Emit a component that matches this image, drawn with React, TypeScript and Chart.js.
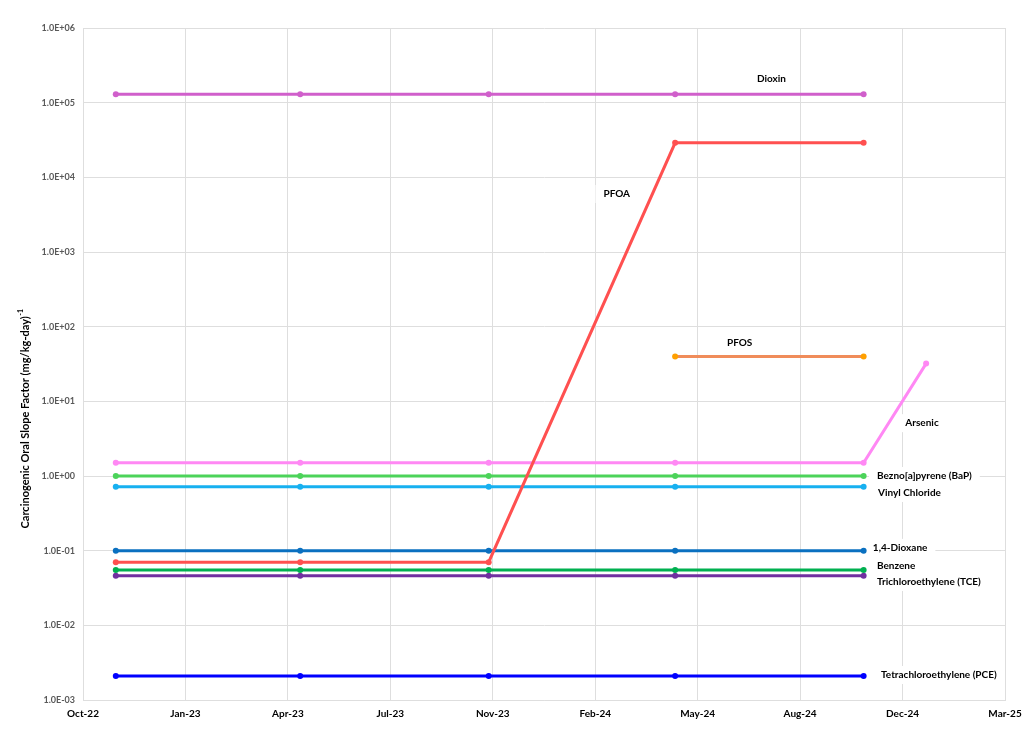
import React, { useEffect, useRef } from "react";
import { Chart, registerables } from "chart.js";

Chart.register(...registerables);

// ---- data ----
const axisOrigin = "2022-10-01";
const xTickLabels = ["Oct-22", "Jan-23", "Apr-23", "Jul-23", "Nov-23", "Feb-24", "May-24", "Aug-24", "Dec-24", "Mar-25"];
const yTickValues = [1e-3, 1e-2, 1e-1, 1e0, 1e1, 1e2, 1e3, 1e4, 1e5, 1e6];

const dates = ["2022-11-02", "2023-05-01", "2023-11-01", "2024-05-01", "2024-11-01"];
const arsenicDates = ["2022-11-02", "2023-05-01", "2023-11-01", "2024-05-01", "2024-11-01", "2025-01-01"];

const dioxin = [1.3e5, 1.3e5, 1.3e5, 1.3e5, 1.3e5];
const pfoa = [0.07, 0.07, 0.07, 2.9e4, 2.9e4];
const pfos = [null, null, null, 40, 40];
const arsenic = [1.5, 1.5, 1.5, 1.5, 1.5, 32];
const bap = [1.0, 1.0, 1.0, 1.0, 1.0];
const vinylChloride = [0.72, 0.72, 0.72, 0.72, 0.72];
const dioxane = [0.1, 0.1, 0.1, 0.1, 0.1];
const benzene = [0.055, 0.055, 0.055, 0.055, 0.055];
const tce = [0.046, 0.046, 0.046, 0.046, 0.046];
const pce = [0.0021, 0.0021, 0.0021, 0.0021, 0.0021];

// annotation labels: text, anchor date, anchor value, alignment
const labelTexts = ["Dioxin", "PFOA", "PFOS", "Arsenic", "Bezno[a]pyrene (BaP)", "Vinyl Chloride", "1,4-Dioxane", "Benzene", "Trichloroethylene (TCE)", "Tetrachloroethylene (PCE)"];
const labelDates = ["2024-08-03", "2024-03-05", "2024-07-03", "2024-12-28", "2024-11-14", "2024-11-15", "2024-11-10", "2024-11-14", "2024-11-14", "2024-11-18"];
const labelValues = [2.07e5, 5980, 60, 5.1, 1.0, 0.593, 0.109, 0.0624, 0.0381, 0.00216];
const labelAligns = ["center", "center", "center", "center", "left", "left", "left", "left", "left", "left"];

const yTitle = "Carcinogenic Oral Slope Factor (mg/kg-day)";
const yTitleSup = "-1";

// ---- helpers ----
const DAY = 86400000;
const toDay = (s: string) => {
  const [y, m, d] = s.split("-").map(Number);
  const [oy, om, od] = axisOrigin.split("-").map(Number);
  return Math.round((Date.UTC(y, m - 1, d) - Date.UTC(oy, om - 1, od)) / DAY);
};
const pts = (ds: string[], vs: (number | null)[]) => ds.map((d, i) => ({ x: toDay(d), y: vs[i] }));
const fmtExp = (v: number) => {
  const e = Math.round(Math.log10(v));
  const sign = e < 0 ? "-" : "+";
  return "1.0E" + sign + String(Math.abs(e)).padStart(2, "0");
};

const FONT = "Lato, 'Open Sans', sans-serif";

const series = [
  { label: "Dioxin", d: dates, v: dioxin, c: "#D05FCB", p: "#D05FCB" },
  { label: "PFOA", d: dates, v: pfoa, c: "#FF5050", p: "#FF5050" },
  { label: "PFOS", d: dates, v: pfos, c: "#F08C5A", p: "#FFA000" },
  { label: "Arsenic", d: arsenicDates, v: arsenic, c: "#FF88F4", p: "#FF88F4" },
  { label: "BaP", d: dates, v: bap, c: "#4CD35A", p: "#4CD35A" },
  { label: "Vinyl Chloride", d: dates, v: vinylChloride, c: "#17B0F0", p: "#17B0F0" },
  { label: "1,4-Dioxane", d: dates, v: dioxane, c: "#0A70C0", p: "#0A70C0" },
  { label: "Benzene", d: dates, v: benzene, c: "#00B050", p: "#00B050" },
  { label: "TCE", d: dates, v: tce, c: "#7030A0", p: "#7030A0" },
  { label: "PCE", d: dates, v: pce, c: "#0000FF", p: "#0000FF" },
];

const labelPlugin = {
  id: "labels",
  beforeDatasetsDraw(chart: any) {
    const ctx = chart.ctx;
    const xs = chart.scales.x;
    const ys = chart.scales.y;
    ctx.save();
    ctx.font = `bold 10px ${FONT}`;
    ctx.textBaseline = "middle";
    labelTexts.forEach((t, i) => {
      const px = xs.getPixelForValue(toDay(labelDates[i]));
      const py = ys.getPixelForValue(labelValues[i]);
      const w = ctx.measureText(t).width;
      const left = labelAligns[i] === "center" ? px - w / 2 : px;
      ctx.fillStyle = "#ffffff";
      ctx.fillRect(left - 8, py - 9, w + 16, 18);
      ctx.fillStyle = "#000000";
      ctx.textAlign = "left";
      ctx.fillText(t, left, py);
    });
    ctx.restore();
  },
  afterDraw(chart: any) {
    const ctx = chart.ctx;
    ctx.save();
    ctx.translate(25, 419);
    ctx.rotate(-Math.PI / 2);
    ctx.fillStyle = "#000000";
    ctx.textBaseline = "middle";
    ctx.textAlign = "left";
    ctx.font = `bold 11px ${FONT}`;
    const w1 = ctx.measureText(yTitle).width;
    ctx.font = `bold 7px ${FONT}`;
    const w2 = ctx.measureText(yTitleSup).width;
    const start = -(w1 + w2) / 2;
    ctx.font = `bold 11px ${FONT}`;
    ctx.fillText(yTitle, start, 0);
    ctx.font = `bold 7px ${FONT}`;
    ctx.fillText(yTitleSup, start + w1 + 0.5, -4);
    ctx.restore();
  },
};

export default function App() {
  const ref = useRef<HTMLCanvasElement>(null);
  useEffect(() => {
    if (!ref.current) return;
    const chart = new Chart(ref.current, {
      type: "line",
      data: {
        datasets: series.map((s) => ({
          label: s.label,
          data: pts(s.d, s.v) as any,
          borderColor: s.c,
          backgroundColor: s.p,
          pointBackgroundColor: s.p,
          pointBorderColor: s.p,
          borderWidth: 3,
          pointRadius: 3,
          pointBorderWidth: 0,
          tension: 0,
          fill: false,
        })),
      },
      options: {
        animation: false,
        responsive: false,
        devicePixelRatio: 1,
        layout: { padding: { top: 28, right: 19, left: 0, bottom: 0 } },
        plugins: { legend: { display: false }, tooltip: { enabled: false } },
        scales: {
          x: {
            type: "linear",
            min: 0,
            max: 900,
            ticks: {
              stepSize: 100,
              padding: 8,
              color: "#000000",
              font: { family: FONT, size: 10, weight: "bold" },
              maxRotation: 0,
              autoSkip: false,
              callback: (_v: any, i: number) => xTickLabels[i] ?? "",
            },
            grid: { color: "#DEDEDE", lineWidth: 1, drawTicks: false },
            border: { color: "#DEDEDE" },
            afterFit: (s: any) => {
              s.height = 42;
              s.paddingRight = 0;
              s.paddingLeft = 0;
            },
          },
          y: {
            type: "logarithmic",
            min: 1e-3,
            max: 1e6,
            afterBuildTicks: (s: any) => {
              s.ticks = yTickValues.map((v) => ({ value: v }));
            },
            ticks: {
              padding: 8,
              color: "#595959",
              font: { family: FONT, size: 9, weight: "bold" },
              callback: (v: any) => fmtExp(Number(v)),
            },
            grid: { color: "#DEDEDE", lineWidth: 1, drawTicks: false },
            border: { color: "#DEDEDE" },
            afterFit: (s: any) => {
              s.width = 83;
              s.paddingTop = 0;
              s.paddingBottom = 0;
            },
          },
        },
      },
      plugins: [labelPlugin],
    } as any);
    return () => chart.destroy();
  }, []);
  return (
    <div style={{ position: "absolute", left: 0, top: 0, width: 1024, height: 742, background: "#fff" }}>
      <canvas ref={ref} width={1024} height={742} />
    </div>
  );
}
